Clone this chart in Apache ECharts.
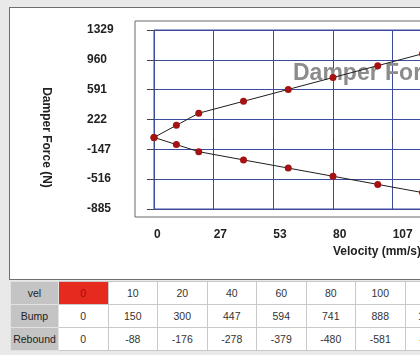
<!DOCTYPE html>
<html>
<head>
<meta charset="utf-8">
<script src="https://cdn.jsdelivr.net/npm/echarts@6/dist/echarts.min.js"></script>
<style>
  html, body { margin:0; padding:0; }
  body { width:420px; height:355px; overflow:hidden; background:#e9e9e9; position:relative; font-family:"Liberation Sans", Arial, sans-serif; }
  #panel { position:absolute; left:9px; top:7px; width:600px; height:271px; border:1px solid #6e6e6e; background:#fff; }
  #chart { position:absolute; left:0; top:0; width:560px; height:279px; }
  #tbl { position:absolute; left:10px; top:281px; width:444px; border-collapse:collapse; table-layout:fixed; font-size:10.5px; color:#333; }
  #tbl td { height:22px; padding:0; text-align:center; border:1px solid #c9c9c9; background:#fff; white-space:nowrap; overflow:hidden; }
  #tbl td.hd { background:#c4c4c4; color:#222; border-color:#e2e2e2; }
  #tbl td.sel { background:#e62a20; color:#9c0f0f; }
</style>
</head>
<body>
<div id="panel"></div>
<div id="chart"></div>
<table id="tbl"></table>
<script>
// ---- data ----
const vel = [0, 10, 20, 40, 60, 80, 100, 120];
const bump = [0, 150, 300, 447, 594, 741, 888, 1035];
const rebound = [0, -88, -176, -278, -379, -480, -581, -682];
const yTickLabels = [-885, -516, -147, 222, 591, 960, 1329];
const xTickLabels = [0, 27, 53, 80, 107, 133, 160];
const rowNames = ['vel', 'Bump', 'Rebound'];

// ---- table ----
const tbl = document.getElementById('tbl');
const cg = document.createElement('colgroup');
const c0 = document.createElement('col'); c0.style.width = '48px'; cg.appendChild(c0);
vel.forEach(() => { const c = document.createElement('col'); c.style.width = '49.5px'; cg.appendChild(c); });
tbl.appendChild(cg);
[vel, bump, rebound].forEach((arr, r) => {
  const tr = document.createElement('tr');
  const th = document.createElement('td'); th.className = 'hd'; th.textContent = rowNames[r]; tr.appendChild(th);
  arr.forEach((v, i) => {
    const td = document.createElement('td');
    td.textContent = v;
    if (r === 0 && i === 0) td.className = 'sel';
    tr.appendChild(td);
  });
  tbl.appendChild(tr);
});

// ---- chart ----
const chart = echarts.init(document.getElementById('chart'), null, { renderer: 'canvas' });
const blue = '#3d4b9e';
const yMin = yTickLabels[0], yMax = yTickLabels[yTickLabels.length - 1];
const xMin = xTickLabels[0], xMax = xTickLabels[xTickLabels.length - 1];
const font = '"Liberation Sans", Arial, sans-serif';
chart.setOption({
  animation: false,
  title: {
    text: 'Damper Force vs Velocity',
    left: 293, top: 62, z: 1, padding: 0,
    textStyle: { fontSize: 23, fontWeight: 'bold', color: '#8c8c8c', fontFamily: font }
  },
  grid: [
    { left: 154, top: 30, width: 358, height: 179, show: true, borderColor: blue, borderWidth: 1, backgroundColor: 'transparent' },
    { left: 135, top: 21, width: 420, height: 196, show: true, borderColor: '#6a6a6a', borderWidth: 1, backgroundColor: 'transparent' }
  ],
  xAxis: [
    {
      type: 'value', gridIndex: 0, min: xMin, max: xMax, interval: (xMax - xMin) / 6,
      offset: 8,
      axisLine: { show: false },
      axisTick: { show: true, length: 5, lineStyle: { color: '#444' } },
      axisLabel: { margin: 12, align: 'left', fontSize: 12, fontWeight: 'bold', color: '#222', fontFamily: font,
        formatter: v => String(Math.round(v)) },
      splitLine: { show: true, lineStyle: { color: blue, width: 1 } },
      name: 'Velocity (mm/s)', nameLocation: 'middle', nameGap: 24,
      nameTextStyle: { align: 'left', fontSize: 12, fontWeight: 'bold', color: '#222', fontFamily: font }
    },
    { type: 'value', gridIndex: 1, show: false }
  ],
  yAxis: [
    {
      type: 'value', gridIndex: 0, min: yMin, max: yMax, interval: yTickLabels[1] - yTickLabels[0],
      offset: 19,
      axisLine: { show: false },
      axisTick: { show: true, length: 7, lineStyle: { color: '#444' } },
      axisLabel: { margin: 48, align: 'left', fontSize: 12, fontWeight: 'bold', color: '#222', fontFamily: font,
        formatter: v => String(Math.round(v)) },
      splitLine: { show: true, lineStyle: { color: blue, width: 1 } },
      name: 'Damper Force (N)', nameLocation: 'middle', nameRotate: -90, nameGap: 83,
      nameTextStyle: { fontSize: 12, fontWeight: 'bold', color: '#222', fontFamily: font, padding: [0, 0, 0, 36] }
    },
    { type: 'value', gridIndex: 1, show: false }
  ],
  series: [
    {
      name: 'Bump', type: 'line', xAxisIndex: 0, yAxisIndex: 0, z: 3,
      data: vel.map((v, i) => [v, bump[i]]),
      symbol: 'circle', symbolSize: 7,
      lineStyle: { color: '#1e1e1e', width: 1 },
      itemStyle: { color: '#a51212' }
    },
    {
      name: 'Rebound', type: 'line', xAxisIndex: 0, yAxisIndex: 0, z: 3,
      data: vel.map((v, i) => [v, rebound[i]]),
      symbol: 'circle', symbolSize: 7,
      lineStyle: { color: '#1e1e1e', width: 1 },
      itemStyle: { color: '#a51212' }
    }
  ]
});
</script>
</body>
</html>
